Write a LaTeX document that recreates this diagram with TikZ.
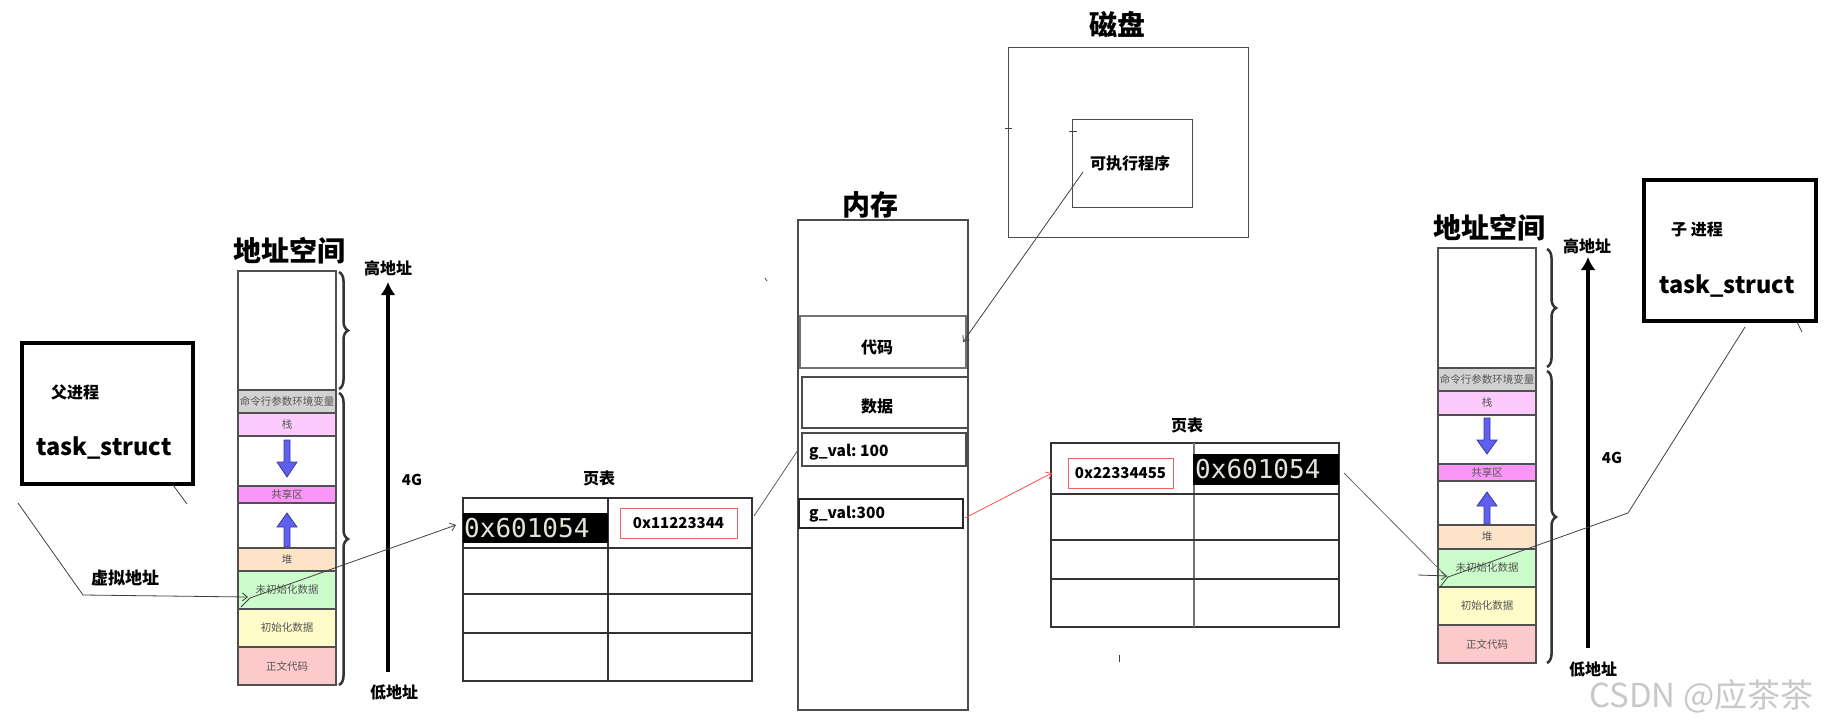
\documentclass[tikz,border=0pt]{standalone}
\usepackage{fontspec}
\setmainfont{Noto Sans CJK SC}
\newfontfamily\monof{DejaVu Sans Mono}
\usetikzlibrary{arrows.meta,decorations.pathreplacing}
\definecolor{segline}{HTML}{505050}
\definecolor{cmdfill}{HTML}{D2D2D2}
\definecolor{stackfill}{HTML}{FCCAFC}
\definecolor{sharefill}{HTML}{F996F8}
\definecolor{heapfill}{HTML}{FDE4C8}
\definecolor{bssfill}{HTML}{CCFCCC}
\definecolor{datafill}{HTML}{FDFCC8}
\definecolor{textfill}{HTML}{FCCACA}
\definecolor{segtext}{HTML}{555555}
\definecolor{blueA}{HTML}{6060F0}
\definecolor{blueB}{HTML}{3A3A9A}
\definecolor{monotext}{HTML}{E4E2DA}
\definecolor{wm}{HTML}{C8C8C8}
\definecolor{redbox}{HTML}{F06060}
\begin{document}
\begin{tikzpicture}[x=1pt,y=-1pt,
  box/.style={draw,anchor=north west,inner sep=0pt,outer sep=0pt},
  seg/.style={box,draw=segline,line width=1.8pt,minimum width=98,text=segtext,font=\fontsize{10.5}{11}\selectfont},
  lbl/.style={inner sep=0pt,font=\bfseries\fontsize{16}{18}\selectfont},
  big/.style={inner sep=0pt,font=\bfseries\fontsize{28}{30}\selectfont},
  ts/.style={inner sep=0pt,font=\bfseries\fontsize{23.5}{26}\selectfont},
  conn/.style={draw=black!75,line width=0.8pt},
  tip/.style={-{Straight Barb[length=5pt,width=8pt]}},
  brc/.style={draw=black!80,line width=2.5pt,decorate,decoration={brace,amplitude=9pt}},
  hiarrow/.style={line width=3.2pt,-{Latex[length=13pt,width=15pt]}},
  bluearr/.style={fill=blueA,draw=blueB,line width=0.8pt},
  tab/.style={draw=black!80,line width=1.4pt},
  mono/.style={inner sep=0pt,anchor=west,text=monotext,font=\monof\fontsize{26}{28}\selectfont},
]
\useasboundingbox (0,0) rectangle (1831,728);

%%%%%%%%%%%%%%%% parent task_struct
\node[box,line width=3.2pt,minimum width=171,minimum height=141] (ptask) at (22,343) {};
\node[lbl] (pname) at (75,392) {父进程};
\node[ts] (pts) at (104,448) {task\_struct};
\node[lbl,font=\bfseries\fontsize{17}{18}\selectfont] (pvlbl) at (125,578) {虚拟地址};

%%%%%%%%%%%%%%%% left address space
\node[big] (lastitle) at (289,251) {地址空间};
\node[seg,minimum height=119] (lkern) at (238,271) {};
\node[seg,fill=cmdfill,minimum height=23] (lcmd) at (238,390) {命令行参数环境变量};
\node[seg,fill=stackfill,minimum height=23] (lstack) at (238,413) {栈};
\node[seg,minimum height=50] (lgap1) at (238,436) {};
\node[seg,fill=sharefill,minimum height=17] (lshare) at (238,486) {共享区};
\node[seg,minimum height=45] (lgap2) at (238,503) {};
\node[seg,fill=heapfill,minimum height=23] (lheap) at (238,548) {堆};
\node[seg,fill=bssfill,minimum height=38] (lbss) at (238,571) {未初始化数据};
\node[seg,fill=datafill,minimum height=38] (ldata) at (238,609) {初始化数据};
\node[seg,fill=textfill,minimum height=38] (ltext) at (238,647) {正文代码};
\draw[bluearr] (284,440) -- (290,440) -- (290,462) -- (297,462) -- (287,477) -- (277,462) -- (284,462) -- cycle;
\draw[bluearr] (284,547) -- (290,547) -- (290,527) -- (297,527) -- (287,513) -- (277,527) -- (284,527) -- cycle;
\draw[brc] (339,272) -- (339,389);
\draw[brc] (339,393) -- (339,685);
\coordinate (lhi) at (388,282);
\coordinate (llo) at (388,672);
\draw[hiarrow] (llo) -- (lhi);
\node[lbl] (lhil) at (388,268) {高地址};
\node[lbl] (llol) at (394,692) {低地址};
\node[lbl,font=\bfseries\fontsize{15}{16}\selectfont] (l4g) at (412,480) {4G};

%%%%%%%%%%%%%%%% page table 1
\node[lbl] (pt1t) at (599,478) {页表};
\node[box,tab,minimum width=289,minimum height=183] (pt1) at (463,498) {};
\draw[tab] (608,498) -- (608,681);
\draw[tab] (463,548) -- (752,548);
\draw[tab] (463,594) -- (752,594);
\draw[tab] (463,633) -- (752,633);
\node[box,draw=none,fill=black,minimum width=145,minimum height=30] (pt1va) at (463,513) {};
\node[mono] (pt1vat) at (464,528) {0x601054};
\node[box,draw=redbox,line width=1pt,minimum width=117,minimum height=30] (pt1pa) at (620,508) {};
\node[lbl,font=\bfseries\fontsize{15}{16}\selectfont] (pt1pat) at (pt1pa.center) {0x11223344};

%%%%%%%%%%%%%%%% memory
\node[big] (memt) at (870,205) {内存};
\node[box,draw=black!70,line width=1.2pt,minimum width=170,minimum height=490] (mem) at (798,220) {};
\node[box,draw=black!55,line width=1.5pt,minimum width=166,minimum height=52] (mcode) at (800,316) {};
\node[lbl] (mcodet) at (877,347) {代码};
\node[box,draw=black!70,line width=1.5pt,minimum width=166,minimum height=51] (mdata) at (802,377) {};
\node[lbl] (mdatat) at (877,406) {数据};
\node[box,draw=black!70,line width=1.3pt,minimum width=164,minimum height=33] (mg1) at (802,433) {};
\node[lbl,anchor=west,font=\bfseries\fontsize{15.5}{16}\selectfont] (mg1t) at (809,452) {g\_val:\ 100};
\node[box,draw=black!85,line width=1.3pt,minimum width=164,minimum height=29] (mg2) at (799,499) {};
\node[lbl,anchor=west,font=\bfseries\fontsize{15.5}{16}\selectfont] (mg2t) at (809,514) {g\_val:300};

%%%%%%%%%%%%%%%% disk
\node[big] (diskt) at (1117,25) {磁盘};
\node[box,draw=black!70,line width=1pt,minimum width=240,minimum height=190] (disk) at (1008,47) {};
\node[box,draw=black!70,line width=1pt,minimum width=120,minimum height=88] (exe) at (1072,119) {};
\node[lbl] (exet) at (1130,163) {可执行程序};
\draw[conn] (1005,128) -- (1012,128);
\draw[conn] (1069,131) -- (1077,131);

%%%%%%%%%%%%%%%% page table 2
\node[lbl] (pt2t) at (1187,425) {页表};
\node[box,tab,minimum width=288,minimum height=184] (pt2) at (1051,443) {};
\draw[tab,draw=black!55] (1194,443) -- (1194,627);
\draw[tab] (1051,494) -- (1339,494);
\draw[tab] (1051,540) -- (1339,540);
\draw[tab] (1051,579) -- (1339,579);
\node[box,draw=redbox,line width=1pt,minimum width=105,minimum height=30] (pt2pa) at (1068,458) {};
\node[lbl,font=\bfseries\fontsize{15}{16}\selectfont] (pt2pat) at (pt2pa.center) {0x22334455};
\node[box,draw=none,fill=black,minimum width=146,minimum height=31] (pt2va) at (1193,454) {};
\node[mono] (pt2vat) at (1195,469) {0x601054};

%%%%%%%%%%%%%%%% right address space
\node[big] (rastitle) at (1489,228) {地址空间};
\node[seg,minimum height=120] (rkern) at (1438,248) {};
\node[seg,fill=cmdfill,minimum height=23] (rcmd) at (1438,368) {命令行参数环境变量};
\node[seg,fill=stackfill,minimum height=24] (rstack) at (1438,391) {栈};
\node[seg,minimum height=49] (rgap1) at (1438,415) {};
\node[seg,fill=sharefill,minimum height=17] (rshare) at (1438,464) {共享区};
\node[seg,minimum height=44] (rgap2) at (1438,481) {};
\node[seg,fill=heapfill,minimum height=24] (rheap) at (1438,525) {堆};
\node[seg,fill=bssfill,minimum height=38] (rbss) at (1438,549) {未初始化数据};
\node[seg,fill=datafill,minimum height=38] (rdata) at (1438,587) {初始化数据};
\node[seg,fill=textfill,minimum height=38] (rtext) at (1438,625) {正文代码};
\draw[bluearr] (1484,418) -- (1490,418) -- (1490,440) -- (1497,440) -- (1487,454) -- (1477,440) -- (1484,440) -- cycle;
\draw[bluearr] (1484,524) -- (1490,524) -- (1490,506) -- (1497,506) -- (1487,492) -- (1477,506) -- (1484,506) -- cycle;
\draw[brc] (1547,249) -- (1547,367);
\draw[brc] (1547,371) -- (1547,663);
\coordinate (rhi) at (1588,257);
\coordinate (rlo) at (1588,648);
\draw[hiarrow] (rlo) -- (rhi);
\node[lbl] (rhil) at (1587,246) {高地址};
\node[lbl] (rlol) at (1593,669) {低地址};
\node[lbl,font=\bfseries\fontsize{15}{16}\selectfont] (r4g) at (1612,458) {4G};

%%%%%%%%%%%%%%%% child task_struct
\node[box,line width=3.2pt,minimum width=172,minimum height=141] (ctask) at (1644,180) {};
\node[lbl] (cname) at (1697,230) {子\ 进程};
\node[ts] (cts) at (1727,286) {task\_struct};

%%%%%%%%%%%%%%%% connectors
\coordinate (pv0) at (18,503);
\coordinate (pv1) at (83,595);
\coordinate (pv2) at (248,597);
\draw[conn,tip] (pv0) -- (pv1) -- (pv2);
\coordinate (pu0) at (241,607);
\coordinate (pu1) at (250,598);
\coordinate (pt1in) at (456,525);
\draw[conn,tip] (pu0) -- (pu1) -- (pt1in);
\draw[conn] (173,485) -- (187,504);
\coordinate (pt1out) at (754,516);
\coordinate (memin) at (798,450);
\draw[conn,draw=black!65] (pt1out) -- (memin);
\coordinate (exeout) at (1083,172);
\coordinate (codein) at (963,342);
\draw[conn,tip] (exeout) -- (codein);
\coordinate (g2out) at (965,518);
\coordinate (pt2in) at (1052,473);
\draw[conn,draw=red!70,tip] (g2out) -- (pt2in);
\coordinate (pt2out) at (1344,473);
\coordinate (rbssin) at (1447,577);
\draw[conn,draw=black!60] (pt2out) -- (rbssin);
\coordinate (rv0) at (1418,575);
\draw[conn,tip] (rv0) -- (1447,576);
\coordinate (cv0) at (1745,327);
\coordinate (cv1) at (1628,513);
\coordinate (cv2) at (1448,577);
\coordinate (cv3) at (1440,587);
\draw[conn] (cv0) -- (cv1) -- (cv2) -- (cv3);
\draw[conn] (1797,322) -- (1802,332);
\draw[conn] (1119,655) -- (1119,662);
\draw[conn] (765,278) -- (767,281);

%%%%%%%%%%%%%%%% watermark
\node[inner sep=0pt,anchor=west,text=wm,font=\fontsize{33}{36}\selectfont] (wmark) at (1589,696) {CSDN @应茶茶};
\end{tikzpicture}
\end{document}
